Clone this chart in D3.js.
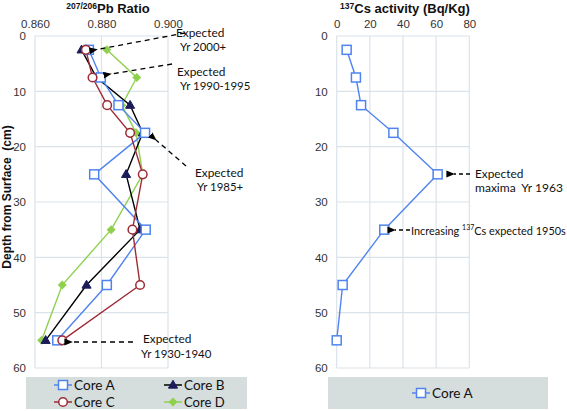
<!DOCTYPE html>
<html><head><meta charset="utf-8">
<script src="https://cdn.jsdelivr.net/npm/d3@7"></script>
<style>body{margin:0;background:#fff}svg{display:block}text{white-space:pre}</style>
</head><body>
<svg id="c" width="567" height="411"></svg>
<script>
const depths = [2.5, 7.5, 12.5, 17.5, 25, 35, 45, 55];
const coreA = [0.8762, 0.8798, 0.8851, 0.8931, 0.8778, 0.8933, 0.8816, 0.8667];
const coreB = [0.8740, 0.8785, 0.8886, 0.8924, 0.8874, 0.8916, 0.8755, 0.8632];
const coreC = [0.8753, 0.8773, 0.8817, 0.8886, 0.8924, 0.8893, 0.8916, 0.8682];
const coreD = [0.8816, 0.8906, 0.8861, 0.8904, 0.8924, 0.8829, 0.8682, 0.8620];
const csA = [6.0, 11.6, 14.7, 34.2, 60.9, 28.7, 3.6, 0.0];
const csErr = [0, 0, 0, 0, 2.5, 0, 0, 0];
const pbTicks = [0.86, 0.88, 0.90];
const csTicks = [0, 20, 40, 60, 80];
const depthTicks = [0, 10, 20, 30, 40, 50, 60];

const svg = d3.select("#c");
const gridC = "#dbe3ea";
const tickFont = "Liberation Sans, Arial, sans-serif";
const annFont = "Lato, 'Open Sans', sans-serif";

const defs = svg.append("defs");
defs.append("marker").attr("id","ah").attr("viewBox","0 0 10 10").attr("refX",1).attr("refY",5)
  .attr("markerWidth",6.5).attr("markerHeight",6.5).attr("orient","auto-start-reverse")
  .append("path").attr("d","M10,1 L0,5 L10,9 Z").attr("fill","#000");

const y = d3.scaleLinear().domain([0,60]).range([36,368]);
const xL = d3.scaleLinear().domain([0.86,0.90]).range([35,168]);
const xR = d3.scaleLinear().domain([0,80]).range([336.7,469.3]);

function panel(x, ticks, fmt){
  const g = svg.append("g");
  g.selectAll(".vg").data(ticks).join("line")
    .attr("x1",d=>x(d)).attr("x2",d=>x(d)).attr("y1",y(0)).attr("y2",y(60))
    .attr("stroke",gridC).attr("stroke-width",1.2);
  g.selectAll(".hg").data(depthTicks).join("line")
    .attr("x1",x.range()[0]).attr("x2",x.range()[1]).attr("y1",d=>y(d)).attr("y2",d=>y(d))
    .attr("stroke",gridC).attr("stroke-width",1.2);
  const ax = d3.axisTop(x).tickValues(ticks).tickFormat(fmt).tickSize(0).tickPadding(8);
  const ga = g.append("g").attr("transform",`translate(0,${y(0)})`).call(ax);
  ga.select(".domain").remove();
  ga.selectAll("text").attr("font-family",tickFont).attr("font-size",11.5).attr("fill","#333");
  const ay = d3.axisLeft(y).tickValues(depthTicks).tickFormat(d3.format("d")).tickSize(0).tickPadding(9);
  const gy = g.append("g").attr("transform",`translate(${x.range()[0]},0)`).call(ay);
  gy.select(".domain").remove();
  gy.selectAll("text").attr("font-family",tickFont).attr("font-size",11.5).attr("fill","#333");
  return g;
}
panel(xL, pbTicks, d3.format(".3f"));
panel(xR, csTicks, d3.format("d"));

const t1 = svg.append("text").attr("x",108).attr("y",13).attr("text-anchor","middle")
  .attr("font-family",tickFont).attr("font-weight","bold").attr("font-size",13).attr("fill","#111");
t1.append("tspan").attr("font-size",8.5).attr("dy",-4).text("207/206");
t1.append("tspan").attr("dy",4).text("Pb Ratio");
const t2 = svg.append("text").attr("x",405).attr("y",13).attr("text-anchor","middle")
  .attr("font-family",tickFont).attr("font-weight","bold").attr("font-size",13).attr("fill","#111");
t2.append("tspan").attr("font-size",8.5).attr("dy",-4).text("137");
t2.append("tspan").attr("dy",4).text("Cs activity (Bq/Kg)");
svg.append("text").attr("transform","translate(11,197) rotate(-90)").attr("text-anchor","middle")
  .attr("font-family",tickFont).attr("font-weight","bold").attr("font-size",12).attr("fill","#111")
  .text("Depth from Surface  (cm)");

const series = [
  {name:"Core A", vals:coreA, color:"#4f84f0", mk:"square", fill:"#fff"},
  {name:"Core B", vals:coreB, color:"#000", mk:"triangle", fill:"#1c1c5a"},
  {name:"Core C", vals:coreC, color:"#9e2a36", mk:"circle", fill:"#fff"},
  {name:"Core D", vals:coreD, color:"#8fd14f", mk:"diamond", fill:"#8fd14f"}
];
function drawMarker(g, type, cx, cy, color, fill){
  if(type==="square") g.append("rect").attr("x",cx-4.5).attr("y",cy-4.5).attr("width",9).attr("height",9)
    .attr("fill",fill).attr("stroke",color).attr("stroke-width",1.5);
  else if(type==="circle") g.append("circle").attr("cx",cx).attr("cy",cy).attr("r",4.3)
    .attr("fill",fill).attr("stroke",color).attr("stroke-width",1.5);
  else if(type==="triangle") g.append("path").attr("d",d3.symbol(d3.symbolTriangle,36)())
    .attr("transform",`translate(${cx},${cy+0.5})`).attr("fill",fill).attr("stroke",fill);
  else if(type==="diamond") g.append("path").attr("d",`M0,-4.5L4.5,0L0,4.5L-4.5,0Z`)
    .attr("transform",`translate(${cx},${cy})`).attr("fill",fill);
}
const line = (xs)=>d3.line().x(d=>xs(d[0])).y(d=>y(d[1]));
const order = [3,1,0,2];
order.forEach(i=>{
  const s = series[i];
  svg.append("path").datum(s.vals.map((v,k)=>[v,depths[k]])).attr("d",line(xL))
    .attr("fill","none").attr("stroke",s.color).attr("stroke-width",1.4);
});
order.forEach(i=>{
  const s = series[i];
  const g = svg.append("g");
  s.vals.forEach((v,k)=>drawMarker(g,s.mk,xL(v),y(depths[k]),s.color,s.fill));
});

svg.append("path").datum(csA.map((v,k)=>[v,depths[k]])).attr("d",line(xR))
  .attr("fill","none").attr("stroke","#4f84f0").attr("stroke-width",1.4);
csA.forEach((v,k)=>{
  if(csErr[k]>0){
    const x0=xR(v-csErr[k]), x1=xR(v+csErr[k]), yy=y(depths[k]);
    svg.append("path").attr("d",`M${x0},${yy}H${x1}M${x0},${yy-2.5}V${yy+2.5}M${x1},${yy-2.5}V${yy+2.5}`)
      .attr("stroke","#555").attr("stroke-width",1);
  }
});
const gc = svg.append("g");
csA.forEach((v,k)=>drawMarker(gc,"square",xR(v),y(depths[k]),"#4f84f0","#fff"));

const annSize = 12.5;
const slack = 1.1;
function fit(t, w){
  const n = t.node();
  const cw = n.getComputedTextLength();
  if(cw > w*slack){
    const fs = parseFloat(t.attr("font-size"));
    t.attr("font-size", fs * w * slack / cw);
  }
  return t;
}
function arrow(x1,y1,x2,y2,dash){
  svg.append("line").attr("x1",x1).attr("y1",y1).attr("x2",x2).attr("y2",y2)
    .attr("stroke","#000").attr("stroke-width",1.3).attr("stroke-dasharray",dash||"5,4")
    .attr("marker-end","url(#ah)");
}
function label(x,yy,txt,w){
  const t = svg.append("text").attr("font-family",annFont).attr("font-size",annSize).attr("fill","#111")
    .attr("x",x).attr("y",yy).text(txt);
  return fit(t,w);
}
arrow(185,33,97,49.5);
label(176,37,"Expected",44); label(180,51,"Yr 2000+",42);
arrow(172,64,111,74);
label(177,76,"Expected",44); label(180,90,"Yr 1990-1995",64);
arrow(186,166,156,140);
label(195,177,"Expected",44); label(197,191,"Yr 1985+",42);
arrow(133,342,72,342);
label(143,343,"Expected",44); label(141,358,"Yr 1930-1940",64);
arrow(470,174,454,174,"4,3");
label(475,178,"Expected",44); label(475,192,"maxima  Yr 1963",80);
arrow(410,230,395,230,"4,3");
{
  const parts = [["Increasing ",annSize,0],["137",annSize*0.64,-5],["Cs expected 1950s",annSize,0]];
  const x0 = 411, maxW = 155;
  let x = x0;
  const nodes = parts.map(([txt,fs,dy])=>{
    const t = svg.append("text").attr("font-family",annFont).attr("font-size",fs).attr("fill","#111")
      .attr("x",x).attr("y",234.5+dy).text(txt);
    x += t.node().getComputedTextLength();
    return t;
  });
  const total = x - x0;
  if(total > maxW){
    const k = maxW/total; let xx = x0;
    nodes.forEach(t=>{ t.attr("font-size", parseFloat(t.attr("font-size"))*k).attr("x",xx); xx += t.node().getComputedTextLength(); });
  }
}

svg.append("rect").attr("x",26).attr("y",377).attr("width",221).attr("height",32).attr("fill","#d6dddd");
const legPos = [[54,385],[164,385],[54,402],[164,402]];
series.forEach((s,i)=>{
  const [lx,ly] = legPos[i];
  const g = svg.append("g");
  g.append("line").attr("x1",lx).attr("x2",lx+18).attr("y1",ly).attr("y2",ly).attr("stroke",s.color).attr("stroke-width",1.5);
  drawMarker(g,s.mk,lx+9,ly,s.color,s.fill);
  fit(g.append("text").attr("x",lx+20).attr("y",ly+5).attr("font-family",annFont).attr("font-size",14.5).attr("fill","#111").text(s.name),37);
});
svg.append("rect").attr("x",328).attr("y",377).attr("width",220).attr("height",32).attr("fill","#d6dddd");
{
  const g = svg.append("g"); const lx=412, ly=393;
  g.append("line").attr("x1",lx).attr("x2",lx+18).attr("y1",ly).attr("y2",ly).attr("stroke","#4f84f0").attr("stroke-width",1.5);
  drawMarker(g,"square",lx+9,ly,"#4f84f0","#fff");
  fit(g.append("text").attr("x",lx+20).attr("y",ly+5).attr("font-family",annFont).attr("font-size",14.5).attr("fill","#111").text("Core A"),37);
}
</script>
</body></html>
